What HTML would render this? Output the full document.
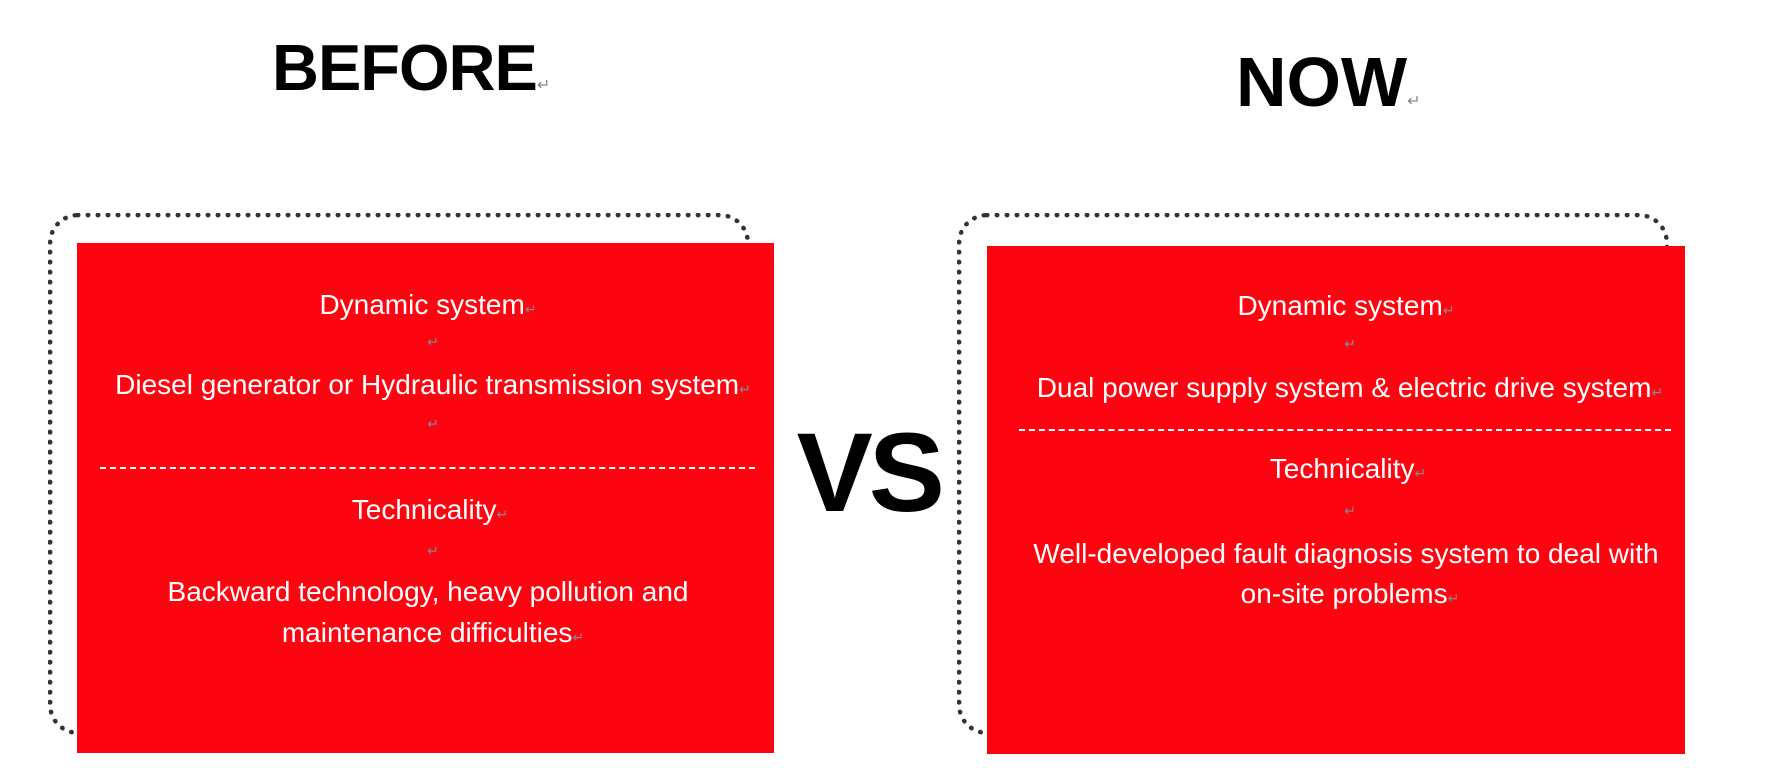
<!DOCTYPE html>
<html><head><style>
body{margin:0;width:1780px;height:768px;background:#fff;position:relative;overflow:hidden;font-family:"Liberation Sans",sans-serif}
.a{position:absolute}
.t{position:absolute;color:#fff;font-size:28px;white-space:nowrap;transform:translate(-50%,-50%)}
.r{color:#888;font-size:14px}
.h{position:absolute;font-weight:bold;color:#000;white-space:nowrap}
</style></head><body>
<div class="h" style="left:272px;top:30px;font-size:65px;letter-spacing:-1px">BEFORE<span style="font-size:16px;color:#888;font-weight:normal">↵</span></div>
<div class="h" style="left:1236px;top:42px;font-size:70px">NOW<span style="font-size:16px;color:#888;font-weight:normal">↵</span></div>
<div class="a" style="left:48px;top:213px;width:692px;height:512px;border:5px dotted #333;border-radius:30px"></div>
<div class="a" style="left:957px;top:213px;width:702px;height:512px;border:5px dotted #333;border-radius:30px"></div>
<div class="a" style="left:77px;top:243px;width:697px;height:510px;background:#fd0510"></div>
<div class="a" style="left:987px;top:246px;width:698px;height:508px;background:#fd0510"></div>
<div class="h" style="left:798px;top:408px;font-size:112px;font-weight:900;letter-spacing:-4px;transform:scaleX(1.02)">VS</div>

<div class="t" style="left:428px;top:305px">Dynamic system<span class="r">↵</span></div>
<div class="t r" style="left:433px;top:342px">↵</div>
<div class="t" style="left:433px;top:385px">Diesel generator or Hydraulic transmission system<span class="r">↵</span></div>
<div class="t r" style="left:433px;top:424px">↵</div>
<div class="a" style="left:100px;top:467px;width:655px;border-top:2px dashed #fff"></div>
<div class="t" style="left:430px;top:510px">Technicality<span class="r">↵</span></div>
<div class="t r" style="left:433px;top:551px">↵</div>
<div class="t" style="left:428px;top:592px">Backward technology, heavy pollution and</div>
<div class="t" style="left:433px;top:633px">maintenance difficulties<span class="r">↵</span></div>

<div class="t" style="left:1346px;top:306px">Dynamic system<span class="r">↵</span></div>
<div class="t r" style="left:1350px;top:344px">↵</div>
<div class="t" style="left:1350px;top:388px">Dual power supply system &amp; electric drive system<span class="r">↵</span></div>
<div class="a" style="left:1019px;top:429px;width:652px;border-top:2px dashed #fff"></div>
<div class="t" style="left:1348px;top:469px">Technicality<span class="r">↵</span></div>
<div class="t r" style="left:1350px;top:511px">↵</div>
<div class="t" style="left:1346px;top:554px">Well-developed fault diagnosis system to deal with</div>
<div class="t" style="left:1350px;top:594px">on-site problems<span class="r">↵</span></div>
</body></html>
